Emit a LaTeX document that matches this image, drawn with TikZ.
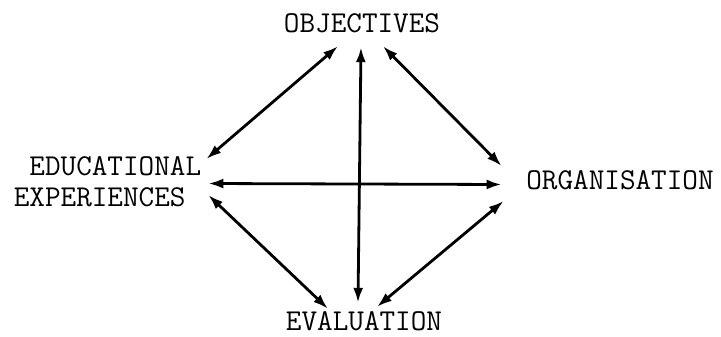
\documentclass[tikz,border=0pt]{standalone}
\usepackage{fontspec}
\usetikzlibrary{arrows.meta}
\tikzset{
topic/.style={
inner sep=0pt,
font=\ttfamily\fontsize{30.3}{31}\selectfont
},
capline/.style={
text height=17pt,
text depth=0pt
},
link/.style={
{Latex[length=15pt,width=10pt]}-{Latex[length=15pt,width=10pt]},
line width=2.8pt
}
}

\begin{document}
\begin{tikzpicture}[x=1pt,y=-1pt]
\useasboundingbox (0,0) rectangle (721,337);
\node[topic,capline](obj) at (362,24.5){OBJECTIVES};
\node[topic,align=left](edu) at (107.5,182){\hphantom{E}EDUCATIONAL\\EXPERIENCES};
\node[topic,capline](org) at (620,181){ORGANISATION};
\node[topic,capline](eva) at (364,322){EVALUATION};

\draw[link]([shift={(-24,13)}]obj.south)--([shift={(5,-23)}]edu.east);
\draw[link]([shift={(21,13)}]obj.south)--([shift={(-24.6,-15)}]org.west);
\draw[link]([shift={(-1,14)}]obj.south)--([shift={(-6,-10.5)}]eva.north);
\draw[link]([shift={(7,1.5)}]edu.east)--([shift={(-24.6,3.5)}]org.west);
\draw[link]([shift={(7,13)}]edu.east)--([shift={(-36,-4.5)}]eva.north);
\draw[link]([shift={(-22.6,20)}]org.west)--([shift={(13,-6.5)}]eva.north);
\end{tikzpicture}
\end{document}
